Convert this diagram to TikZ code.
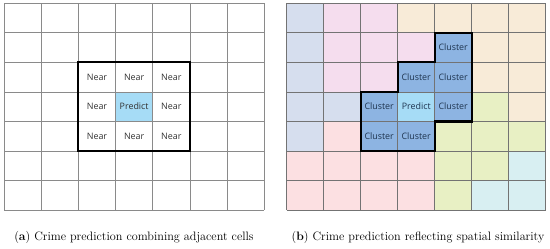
\documentclass[tikz,border=0pt]{standalone}
\usepackage{fontspec}
\newfontfamily\cellfont{Open Sans}
\definecolor{bgray}{HTML}{D6DEEE}
\definecolor{lpink}{HTML}{F5DDEE}
\definecolor{spink}{HTML}{FCE0E2}
\definecolor{beige}{HTML}{F8EBD8}
\definecolor{lgreen}{HTML}{E8F0C4}
\definecolor{lcyan}{HTML}{D8EFF2}
\definecolor{clblue}{HTML}{8DB4E2}
\definecolor{prblue}{HTML}{A6DCF6}
\definecolor{gridgray}{HTML}{8A8A8A}
\definecolor{cltext}{HTML}{1F3550}
\tikzset{
  celltxt/.style={font=\cellfont\fontsize{8.9}{10}\selectfont, text=black!80, inner sep=0pt},
  clustertxt/.style={font=\cellfont\fontsize{8.9}{10}\selectfont, text=cltext, inner sep=0pt},
  gridline/.style={draw=gridgray, line width=0.7pt},
  boldline/.style={draw=black, line width=2.2pt, line join=miter},
  captxt/.style={font=\fontsize{12.2}{14}\selectfont, inner sep=0pt}
}
\begin{document}
\begin{tikzpicture}[x=1pt,y=-1pt]
\useasboundingbox (0,0) rectangle (550,249);
% ---------- left grid ----------
\def\lx{4}\def\cw{37.19}\def\ty{3.3}\def\rh{29.53}
\fill[prblue] (\lx+3*\cw,\ty+3*\rh) rectangle (\lx+4*\cw,\ty+4*\rh);
\foreach \i in {0,...,7}{
  \draw[gridline] (\lx+\i*\cw,\ty) -- (\lx+\i*\cw,\ty+7*\rh);
  \draw[gridline] (\lx,\ty+\i*\rh) -- (\lx+7*\cw,\ty+\i*\rh);
}
\draw[boldline] (\lx+2*\cw,\ty+2*\rh) rectangle (\lx+5*\cw,\ty+5*\rh);
\foreach \c/\r/\nm in {2/2/a1,3/2/a2,4/2/a3,2/3/a4,4/3/a6,2/4/a7,3/4/a8,4/4/a9}{
  \node[celltxt] (\nm) at (\lx+\c*\cw+0.5*\cw,\ty+\r*\rh+0.5*\rh) {Near};
}
\node[celltxt] (a5) at (\lx+3.5*\cw,\ty+3.5*\rh) {Predict};
% ---------- right grid ----------
\def\rx{286.7}\def\cv{37.0}
\foreach \r/\cols in {
  0/{bgray,lpink,lpink,beige,beige,beige,beige},
  1/{bgray,lpink,lpink,lpink,clblue,beige,beige},
  2/{bgray,lpink,lpink,clblue,clblue,beige,beige},
  3/{bgray,bgray,clblue,prblue,clblue,lgreen,beige},
  4/{bgray,spink,clblue,clblue,lgreen,lgreen,lgreen},
  5/{spink,spink,spink,spink,lgreen,lgreen,lcyan},
  6/{spink,spink,spink,spink,lgreen,lcyan,lcyan}}{
  \foreach \col [count=\c from 0] in \cols {
    \fill[\col] (\rx+\c*\cv,\ty+\r*\rh) rectangle (\rx+\c*\cv+\cv,\ty+\r*\rh+\rh);
  }
}
\foreach \i in {0,...,7}{
  \draw[gridline,draw=black!55] (\rx+\i*\cv,\ty) -- (\rx+\i*\cv,\ty+7*\rh);
  \draw[gridline,draw=black!55] (\rx,\ty+\i*\rh) -- (\rx+7*\cv,\ty+\i*\rh);
}
\draw[boldline] (\rx+4*\cv,\ty+1*\rh) -- (\rx+5*\cv,\ty+1*\rh) -- (\rx+5*\cv,\ty+4*\rh)
  -- (\rx+4*\cv,\ty+4*\rh) -- (\rx+4*\cv,\ty+5*\rh) -- (\rx+2*\cv,\ty+5*\rh)
  -- (\rx+2*\cv,\ty+3*\rh) -- (\rx+3*\cv,\ty+3*\rh) -- (\rx+3*\cv,\ty+2*\rh)
  -- (\rx+4*\cv,\ty+2*\rh) -- cycle;
\foreach \c/\r/\nm in {4/1/b1,3/2/b2,4/2/b3,2/3/b4,4/3/b6,2/4/b7,3/4/b8}{
  \node[clustertxt] (\nm) at (\rx+\c*\cv+0.5*\cv,\ty+\r*\rh+0.5*\rh) {Cluster};
}
\node[clustertxt] (b5) at (\rx+3.5*\cv,\ty+3.5*\rh) {Predict};
% ---------- captions ----------
\node[captxt,anchor=base] (capa) at (134,240) {(\textbf{a}) Crime prediction combining adjacent cells};
\node[captxt,anchor=base] (capb) at (418,240) {(\textbf{b}) Crime prediction reflecting spatial similarity};
\end{tikzpicture}
\end{document}
